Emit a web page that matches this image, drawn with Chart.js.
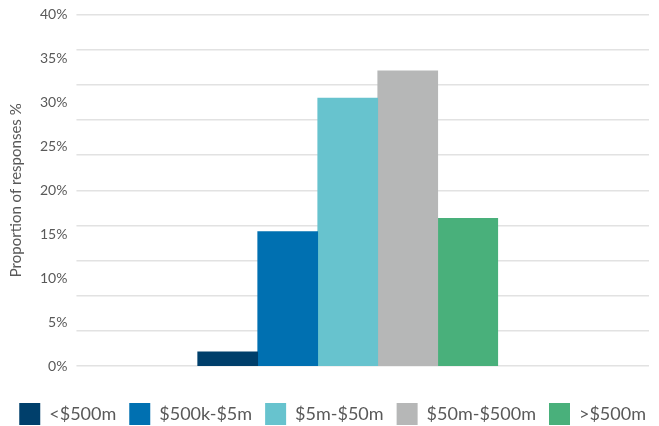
<!DOCTYPE html>
<html>
<head>
<meta charset="utf-8">
<script src="https://cdn.jsdelivr.net/npm/chart.js@4.4.0/dist/chart.umd.min.js"></script>
<style>
  html, body { margin: 0; padding: 0; background: #ffffff; }
  #wrap { width: 659px; height: 426px; }
</style>
</head>
<body>
<div id="wrap"><canvas id="chart"></canvas></div>
<script>
// Revenue bands (legend) and share of responses, %
const categories = ['<$500m', '$500k-$5m', '$5m-$50m', '$50m-$500m', '>$500m'];
const shares     = [1.6, 15.3, 30.5, 33.6, 16.8];
const barColors  = ['#003f6b', '#0070b1', '#67c3ce', '#b6b7b7', '#49b07b'];

// Axis settings
const yMax       = 40;
const labelStep  = 5;   // labels every 5%
const gridStep   = 4;   // grid lines every 4% (as in the original)
const axisTitle  = 'Proportion of responses %';

const textColor = '#595959';
const gridColor = '#e2e2e2';

// One dataset per band, so the legend gets one entry for each
const datasets = categories.map((name, i) => ({
    label: name,
    data: [{ x: i, y: shares[i] }],
    backgroundColor: barColors[i],
    borderWidth: 0,
    grouped: false,
    barPercentage: 1,
    categoryPercentage: 1
}));

new Chart(document.getElementById('chart'), {
    type: 'bar',
    data: { datasets },
    options: {
        responsive: true,
        maintainAspectRatio: false,
        animation: false,
        layout: { padding: { top: 14, left: 0, right: 0, bottom: -9 } },
        scales: {
            x: {
                type: 'linear',
                offset: false,
                min: -2.52,
                max: 7.02,
                afterBuildTicks: scale => {
                    scale.ticks = categories.map((c, i) => ({ value: i }));
                },
                afterFit: scale => { scale.height = 24; },
                ticks: { display: false },
                grid: { display: false },
                border: { display: false }
            },
            y: {
                position: 'left',
                min: 0,
                max: yMax,
                ticks: {
                    stepSize: labelStep,
                    padding: 9,
                    color: textColor,
                    font: { family: 'Lato', size: 14, lineHeight: 0.8 },
                    callback: v => v + '%'
                },
                grid: { display: false, drawTicks: false },
                border: { display: false },
                title: {
                    display: true,
                    text: axisTitle,
                    color: textColor,
                    font: { family: 'Lato', size: 15 },
                    padding: { top: 7, bottom: 6 }
                }
            },
            yGrid: {
                position: 'right',
                min: 0,
                max: yMax,
                ticks: { display: false, stepSize: gridStep },
                grid: { color: gridColor, lineWidth: 1.5, drawTicks: false },
                border: { display: false },
                afterFit: scale => { scale.width = 10; }
            }
        },
        plugins: {
            legend: {
                position: 'bottom',
                align: 'end',
                labels: {
                    boxWidth: 21,
                    boxHeight: 22,
                    padding: 13,
                    color: textColor,
                    font: { family: 'Lato', size: 18 }
                }
            },
            tooltip: { enabled: false }
        }
    }
});
</script>
</body>
</html>
